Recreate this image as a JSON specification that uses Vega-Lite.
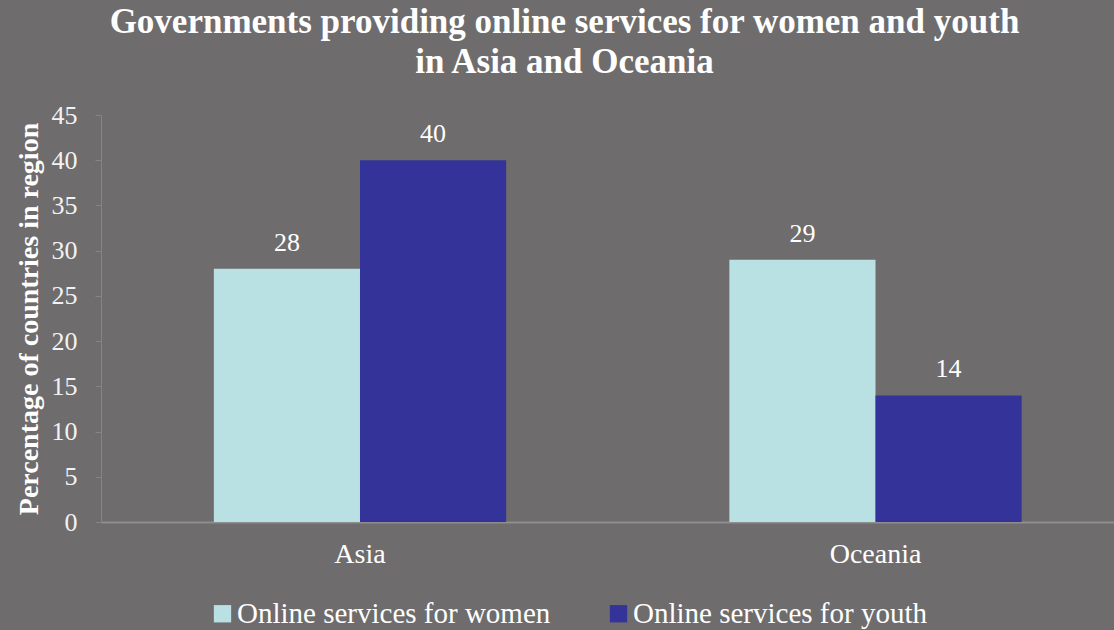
{
  "$schema": "https://vega.github.io/schema/vega-lite/v6.json",
  "width": 1013,
  "height": 407,
  "autosize": {"type": "none"},
  "padding": {"left": 101, "top": 115, "right": 0, "bottom": 108},
  "background": "#6e6c6c",
  "title": {
    "text": ["Governments providing online services for women and youth", "in Asia and Oceania"],
    "font": "Liberation Serif",
    "fontSize": 35,
    "fontWeight": "bold",
    "color": "#ffffff",
    "lineHeight": 40,
    "anchor": "middle",
    "frame": "bounds",
    "offset": 22
  },
  "config": {
    "view": {"stroke": null},
    "font": "Liberation Serif",
    "text": {"font": "Liberation Serif"}
  },
  "data": {
    "values": [
      {"region": "Asia", "series": "Online services for women", "value": 28},
      {"region": "Asia", "series": "Online services for youth", "value": 40},
      {"region": "Oceania", "series": "Online services for women", "value": 29},
      {"region": "Oceania", "series": "Online services for youth", "value": 14}
    ]
  },
  "encoding": {
    "x": {
      "field": "region",
      "type": "nominal",
      "sort": ["Asia", "Oceania"],
      "scale": {"paddingInner": 0.433, "paddingOuter": 0.199, "align": 0.55},
      "axis": {
        "title": null,
        "labelAngle": 0,
        "ticks": false,
        "domainColor": "#8e8e8e",
        "domainWidth": 2,
        "labelColor": "#ffffff",
        "labelFont": "Liberation Serif",
        "labelFontSize": 28,
        "labelPadding": 18
      }
    },
    "xOffset": {"field": "series", "type": "nominal", "sort": ["Online services for women", "Online services for youth"]},
    "y": {
      "field": "value",
      "type": "quantitative",
      "scale": {"domain": [0, 45]},
      "axis": {
        "title": "Percentage of countries in region",
        "titleFont": "Liberation Serif",
        "titleFontSize": 28,
        "titleFontWeight": "bold",
        "titleColor": "#ffffff",
        "titlePadding": 8,
        "values": [0, 5, 10, 15, 20, 25, 30, 35, 40, 45],
        "grid": false,
        "domainColor": "#858585",
        "tickColor": "#858585",
        "tickSize": 6,
        "labelColor": "#f2f2f2",
        "labelFont": "Liberation Serif",
        "labelFontSize": 26,
        "labelPadding": 18
      }
    }
  },
  "layer": [
    {
      "mark": {"type": "bar"},
      "encoding": {
        "color": {
          "field": "series",
          "type": "nominal",
          "sort": ["Online services for women", "Online services for youth"],
          "scale": {"domain": ["Online services for women", "Online services for youth"], "range": ["#b9e0e2", "#333399"]},
          "legend": {
            "title": null,
            "orient": "none",
            "direction": "horizontal",
            "legendX": 107,
            "legendY": 484,
            "symbolType": "square",
            "symbolSize": 300,
            "symbolStrokeWidth": 0,
            "symbolOpacity": 1,
            "labelColor": "#ffffff",
            "labelFont": "Liberation Serif",
            "labelFontSize": 29,
            "labelLimit": 400,
            "columnPadding": 53,
            "labelOffset": 0
          }
        }
      }
    },
    {
      "mark": {"type": "text", "baseline": "alphabetic", "dy": -18, "fontSize": 26, "color": "#ffffff", "font": "Liberation Serif"},
      "encoding": {"text": {"field": "value", "type": "quantitative"}}
    }
  ]
}
